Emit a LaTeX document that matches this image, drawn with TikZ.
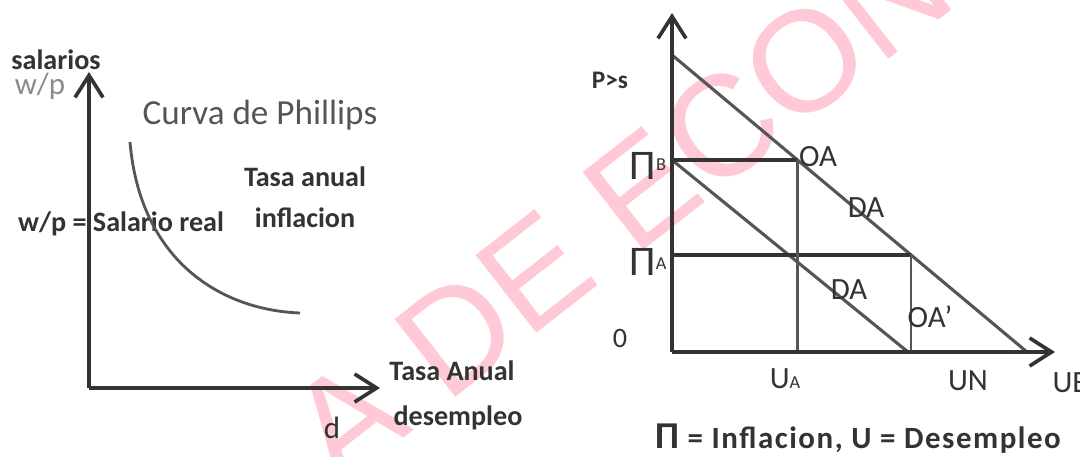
\documentclass[tikz,border=0pt]{standalone}
\usepackage{fontspec}
\setmainfont{Carlito}
\newfontfamily\markfont{Liberation Sans}
\usetikzlibrary{arrows.meta, calc}
\definecolor{econInk}{HTML}{333333}
\definecolor{econGray}{HTML}{555555}
\definecolor{econFaint}{HTML}{8A8A8A}
\definecolor{econPink}{HTML}{FFC9D6}
\tikzset{
  axisline/.style={line width=2.6pt, econInk,
    -{Straight Barb[length=5.5mm, width=7mm]}},
  curveline/.style={line width=2pt, econGray},
  diagline/.style={line width=2.2pt, econGray},
  levelline/.style={line width=2.8pt, econInk},
  guideline/.style={line width=1.8pt, econGray},
  boldlbl/.style={font=\bfseries\fontsize{20}{22}\selectfont,
    text=econInk, inner sep=0pt},
  plainlbl/.style={font=\fontsize{22}{24}\selectfont,
    text=econInk, inner sep=0pt},
  watermark/.style={font=\markfont\fontsize{102}{106}\selectfont,
    text=econPink, rotate=38, inner sep=0pt},
}
\newcommand{\bigpi}{{\fontsize{30}{30}\selectfont Π}}
\newcommand{\smallsub}[1]{{\fontsize{13}{13}\selectfont #1}}

\begin{document}
\begin{tikzpicture}
    \useasboundingbox (0,0) rectangle (27,11.4);
    \fill[white] (0,0) rectangle (27,11.4);
    % watermark behind everything
    \node[watermark] (mark) at (16.6,7.1) {A DE ECONO};
    % ---- left: Phillips curve ----
    \coordinate (O1) at (2.225,1.7);
    \coordinate (yTip1) at (2.225,9.6);
    \coordinate (xTip1) at (9.5,1.7);
    \coordinate (phStart) at (3.25,7.85);
    \coordinate (phEnd) at (7.5,3.575);
    \node[boldlbl] (salarios) at (1.4,9.9) {salarios};
    \node[plainlbl, text=econFaint] (wpTop) at (1.0,9.25) {w/p};
    \node[font=\fontsize{25}{27}\selectfont, text=econGray, inner sep=0pt]
      (phillips) at (6.5,8.525) {Curva de Phillips};
    \node[boldlbl] (tasaInf) at (7.625,6.99) {Tasa anual};
    \node[boldlbl] (inflac) at (7.625,5.95) {inflacion};
    \node[boldlbl] (salReal) at (3.025,5.8) {w/p = Salario real};
    \node[boldlbl] (tasaDes) at (11.3,2.125) {Tasa Anual};
    \node[boldlbl] (desemp) at (11.45,0.95) {desempleo};
    \node[plainlbl] (dLbl) at (8.3,0.7) {d};
    \draw[axisline] (O1) -- (yTip1);
    \draw[axisline] (O1) -- (xTip1);
    \draw[curveline] (phStart) .. controls (3.5,4.9) and (5.5,3.65) .. (phEnd);
    % ---- right: OA / DA ----
    \coordinate (O2) at (16.8,2.6);
    \coordinate (yTip2) at (16.8,11.075);
    \coordinate (xTip2) at (26.375,2.6);
    \coordinate (oaTop) at (16.8,10.025);
    \coordinate (oaEnd) at (25.675,2.6);
    \coordinate (piB) at (16.8,7.4);
    \coordinate (piA) at (16.8,5.025);
    \coordinate (daEnd) at (22.7,2.6);
    \coordinate (eqB) at ($(oaTop)!0.3535!(oaEnd)$);
    \coordinate (eqA) at ($(oaTop)!0.6734!(oaEnd)$);
    \coordinate (uA) at (eqB |- O2);
    \coordinate (uN) at (eqA |- O2);
    \draw[diagline] (oaTop) -- (oaEnd);
    \draw[diagline] (piB) -- (daEnd);
    \draw[levelline] (piB) -- (eqB);
    \draw[levelline] (piA) -- (eqA);
    \draw[guideline] (eqB) -- (uA);
    \draw[guideline] (eqA) -- (uN);
    \draw[axisline] (O2) -- (yTip2);
    \draw[axisline] (O2) -- (xTip2);
    \node[boldlbl, font=\bfseries\fontsize{18}{20}\selectfont] (psLbl) at (15.25,9.4) {P>s};
    \node[plainlbl] (piBLbl) at (16.2,7.25) {\bigpi\raisebox{0.6ex}{\smallsub{B}}};
    \node[plainlbl] (piALbl) at (16.2,4.85) {\bigpi\raisebox{0.4ex}{\smallsub{A}}};
    \node[plainlbl, font=\fontsize{20}{22}\selectfont] (zero) at (15.5,2.95) {0};
    \node[plainlbl] (oaLbl) at (20.45,7.475) {OA};
    \node[plainlbl] (daUp) at (21.65,6.2) {DA};
    \node[plainlbl] (daLow) at (21.225,4.15) {DA};
    \node[plainlbl] (oaPrime) at (23.25,3.475) {OA'};
    \node[plainlbl] (uaLbl) at (19.625,1.925) {U\smallsub{A}};
    \node[plainlbl] (unLbl) at (24.2,1.875) {UN};
    \node[plainlbl] (ueLbl) at (26.75,1.83) {UE};
    \node[boldlbl, font=\bfseries\fontsize{22}{24}\selectfont\addfontfeatures{LetterSpace=5}]
      (legend) at (21.45,0.425)
      {{\fontsize{27}{27}\selectfont Π} = Inflacion,\ U = Desempleo};
\end{tikzpicture}
\end{document}
